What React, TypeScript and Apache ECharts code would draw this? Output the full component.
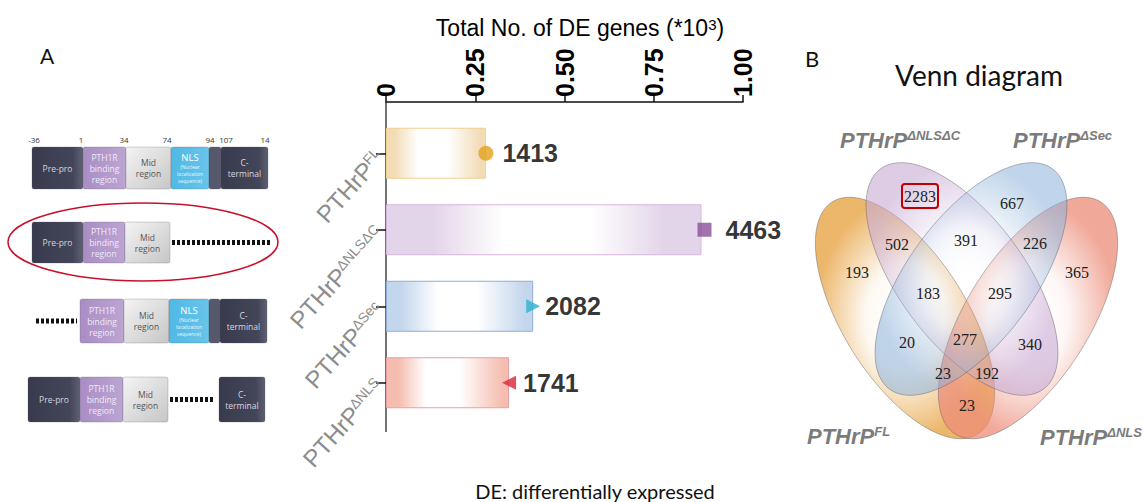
import React, { useEffect, useRef } from 'react';
import * as echarts from 'echarts';

// ---------- bar chart data ----------
const categories = ['FL', 'ΔNLSΔC', 'ΔSec', 'ΔNLS'];
const deGeneCounts = [1413, 4463, 2082, 1741];
const axisTickLabels = ['0', '0.25', '0.50', '0.75', '1.00'];
const axisFullScale = 5050; // gene count drawn at the "1.00" tick

// ---------- bar styles ----------
const barFill = ['#f2dcb6', '#e3d5e9', '#c3d6ec', '#f5bdb0'];
const barEdge = ['#efd091', '#d9b5df', '#8caed6', '#e89ea2'];
// horizontal glow: [colour until, white from, white until, colour from]
const barGlow = [
  [0.08, 0.32, 0.62, 0.95],
  [0.15, 0.37, 0.65, 0.88],
  [0.1, 0.35, 0.62, 0.95],
  [0.1, 0.32, 0.6, 0.95],
];
const markerColor = ['#e2a11b', '#8b4f99', '#2db3cc', '#d9243a'];
const markerSymbol = ['circle', 'rect', 'triangle', 'triangle'];
const markerRotate = [0, 0, -90, 90];
const markerSize = [15, 14, 14, 14];
const markerShift = [0, 3, 0, 0];
const labelGap = [9, 14, 5, 7];

// ---------- venn data ----------
const vennSetNames = ['FL', 'ΔNLSΔC', 'ΔSec', 'ΔNLS'];
const vennRegionCounts = [193, 2283, 667, 365, 502, 391, 226, 183, 295, 20, 277, 340, 23, 192, 23];
const vennHighlighted = 1;

// ---------- venn layout ----------
const vennRegionPos = [
  [857, 272], [920, 196], [1012, 203], [1077, 272], [897, 244], [966, 240], [1035, 243],
  [928, 293], [1000, 293], [907, 342], [965, 339], [1030, 344], [943, 373], [987, 373], [967, 405],
];
const vennEllipses = [
  { cx: 905, cy: 318, a: 137, b: 62, ang: 58, rgb: '232,165,70', alpha: 0.8 },
  { cx: 962, cy: 279, a: 137, b: 63, ang: 53.5, rgb: '200,170,212', alpha: 0.6 },
  { cx: 971, cy: 279, a: 137, b: 63, ang: 126.5, rgb: '140,178,218', alpha: 0.55 },
  { cx: 1028, cy: 318, a: 137, b: 62, ang: 122, rgb: '236,140,120', alpha: 0.75 },
];
const vennDrawOrder = [0, 3, 1, 2];
const vennLabelPos = [[807, 436], [840, 140], [1013, 140], [1040, 437]];

// ---------- protein schematic (left panel A) ----------
const residueMarks = ['-36', '1', '34', '74', '94', '107', '14'];
const residueX = [34, 81, 124, 167, 210, 226, 265];
const proteinRows = [
  { y: 147, h: 42, parts: [['pre', 32, 83], ['pth', 83, 126], ['mid', 126, 171], ['nls', 171, 209], ['link', 209, 221], ['cterm', 221, 268]], dots: null },
  { y: 222, h: 41, parts: [['pre', 32, 83], ['pth', 83, 125], ['mid', 125, 170]], dots: [172, 270] },
  { y: 299, h: 44, parts: [['pth', 80, 124], ['mid', 124, 169], ['nls', 169, 209], ['link', 209, 220], ['cterm', 220, 267]], dots: [36, 77] },
  { y: 377, h: 45, parts: [['pre', 28, 80], ['pth', 80, 123], ['mid', 123, 168], ['cterm', 219, 265]], dots: [170, 215] },
];

function lin(x2: number, y2: number, stops: [number, string][]) {
  return new echarts.graphic.LinearGradient(0, 0, x2, y2, stops.map(([offset, color]) => ({ offset, color })));
}

function partFill(kind: string) {
  switch (kind) {
    case 'pre':
    case 'cterm':
      return lin(1, 0, [[0, '#383a4d'], [0.8, '#434559'], [1, '#5e6073']]);
    case 'pth':
      return lin(1, 0, [[0, '#a98dc4'], [1, '#bca5d2']]);
    case 'mid':
      return lin(1, 1, [[0, '#f4f4f4'], [1, '#c6c6c6']]);
    case 'nls':
      return lin(1, 0, [[0, '#4fb9e5'], [1, '#68c4ea']]);
    default:
      return '#56586b';
  }
}

function partText(kind: string, cx: number, cy: number): any {
  const base = { type: 'text', x: cx, y: cy, z: 5, silent: true };
  const st = { textAlign: 'center', textVerticalAlign: 'middle', fontFamily: 'Open Sans, sans-serif' };
  if (kind === 'pre') return { ...base, style: { ...st, text: 'Pre-pro', fontSize: 8.5, fill: '#d4d4de' } };
  if (kind === 'cterm') return { ...base, style: { ...st, text: 'C-\nterminal', fontSize: 8.5, lineHeight: 11, fill: '#d8d8e2' } };
  if (kind === 'pth') return { ...base, style: { ...st, text: 'PTH1R\nbinding\nregion', fontSize: 8.5, lineHeight: 11, fill: '#f1eaf8' } };
  if (kind === 'mid') return { ...base, style: { ...st, text: 'Mid\nregion', fontSize: 8.5, lineHeight: 11, fill: '#555555' } };
  if (kind === 'nls')
    return {
      ...base,
      style: {
        ...st,
        text: '{t|NLS}\n{s|(Nuclear}\n{s|localization}\n{s|sequence)}',
        rich: {
          t: { fontSize: 9.5, fill: '#ffffff', lineHeight: 12, fontFamily: 'Open Sans, sans-serif' },
          s: { fontSize: 5, fill: '#eef8fd', lineHeight: 7, fontFamily: 'Open Sans, sans-serif' },
        },
      },
    };
  return null;
}

function ellipsePoints(e: any) {
  const pts: number[][] = [];
  const th = (e.ang * Math.PI) / 180;
  for (let k = 0; k < 120; k++) {
    const t = (k / 120) * Math.PI * 2;
    const ca = e.a * Math.cos(t);
    const sb = e.b * Math.sin(t);
    pts.push([e.cx + ca * Math.cos(th) - sb * Math.sin(th), e.cy + ca * Math.sin(th) + sb * Math.cos(th)]);
  }
  return pts;
}

function buildGraphics() {
  const g: any[] = [];

  // panel letters and captions
  g.push({ type: 'text', x: 47, y: 55, style: { text: 'A', fontSize: 21, fontFamily: 'Lato, sans-serif', fill: '#111', textAlign: 'center', textVerticalAlign: 'middle' } });
  g.push({ type: 'text', x: 812, y: 58, style: { text: 'B', fontSize: 22, fontFamily: 'Lato, sans-serif', fill: '#111', textAlign: 'center', textVerticalAlign: 'middle' } });
  g.push({ type: 'text', x: 979, y: 75, style: { text: 'Venn diagram', fontSize: 28, fontFamily: 'Lato, sans-serif', fill: '#111', textAlign: 'center', textVerticalAlign: 'middle' } });
  g.push({ type: 'text', x: 595, y: 491, style: { text: 'DE: differentially expressed', fontSize: 20, fontFamily: 'Lato, sans-serif', fill: '#111', textAlign: 'center', textVerticalAlign: 'middle' } });
  g.push({
    type: 'text', x: 580, y: 28,
    style: {
      text: '{m|Total No. of DE genes (*10}{s|3}{m|)}',
      textAlign: 'center', textVerticalAlign: 'middle',
      rich: {
        m: { fontSize: 23, fontFamily: 'Liberation Sans, Arial', fill: '#000', verticalAlign: 'bottom' },
        s: { fontSize: 15, fontFamily: 'Liberation Sans, Arial', fill: '#000', verticalAlign: 'top' },
      },
    },
  });

  // bar-chart vertical axis line (extends past the category band)
  g.push({ type: 'line', shape: { x1: 386, y1: 102, x2: 386, y2: 432 }, style: { stroke: '#444', lineWidth: 1.5 } });

  // protein schematic
  residueMarks.forEach((t, i) => {
    g.push({ type: 'text', x: residueX[i], y: 139, style: { text: t, fontSize: 8, fontFamily: 'Open Sans, sans-serif', fill: '#333', textAlign: 'center', textVerticalAlign: 'middle' } });
  });
  proteinRows.forEach((row) => {
    row.parts.forEach(([kind, x0, x1]: any) => {
      g.push({ type: 'rect', shape: { x: x0, y: row.y, width: x1 - x0, height: row.h, r: 2 }, style: { fill: partFill(kind), stroke: 'rgba(90,90,100,0.5)', lineWidth: 0.5 } });
      const tx = partText(kind, (x0 + x1) / 2, row.y + row.h / 2);
      if (tx) g.push(tx);
    });
    if (row.dots) {
      g.push({ type: 'line', shape: { x1: row.dots[0], y1: row.y + row.h / 2, x2: row.dots[1], y2: row.y + row.h / 2 }, style: { stroke: '#111', lineWidth: 5, lineDash: [3, 2] } });
    }
  });
  g.push({ type: 'ellipse', shape: { cx: 143, cy: 242, rx: 135, ry: 39 }, style: { fill: 'none', stroke: '#c8102e', lineWidth: 1.5 } });

  // venn ellipses
  vennDrawOrder.forEach((i) => {
    const e = vennEllipses[i];
    g.push({
      type: 'polygon',
      shape: { points: ellipsePoints(e) },
      style: {
        fill: new echarts.graphic.RadialGradient(0.5, 0.5, 0.5, [
          { offset: 0, color: 'rgba(255,255,255,0)' },
          { offset: 0.45, color: `rgba(${e.rgb},0.08)` },
          { offset: 1, color: `rgba(${e.rgb},${e.alpha})` },
        ]),
        stroke: 'rgba(80,80,90,0.5)',
        lineWidth: 0.8,
      },
    });
  });
  vennRegionCounts.forEach((c, i) => {
    g.push({ type: 'text', x: vennRegionPos[i][0], y: vennRegionPos[i][1], z: 10, style: { text: String(c), fontSize: 16, fontFamily: 'Liberation Serif, serif', fill: '#222', textAlign: 'center', textVerticalAlign: 'middle' } });
  });
  const hp = vennRegionPos[vennHighlighted];
  g.push({ type: 'rect', z: 11, shape: { x: hp[0] - 18, y: hp[1] - 12, width: 36, height: 24, r: 3 }, style: { fill: 'none', stroke: '#c00000', lineWidth: 2 } });
  vennSetNames.forEach((n, i) => {
    g.push({
      type: 'text', x: vennLabelPos[i][0], y: vennLabelPos[i][1], z: 10,
      style: {
        text: `{m|PTHrP}{s|${n}}`,
        textAlign: 'left', textVerticalAlign: 'middle',
        rich: {
          m: { fontSize: 22, fontWeight: 'bold', fontStyle: 'italic', fontFamily: 'Liberation Sans, Arial', fill: '#7b7b7b', verticalAlign: 'bottom' },
          s: { fontSize: 13, fontWeight: 'bold', fontStyle: 'italic', fontFamily: 'Liberation Sans, Arial', fill: '#7b7b7b', verticalAlign: 'top' },
        },
      },
    });
  });
  return g;
}

function barGradient(i: number) {
  const [c0, w0, w1, c1] = barGlow[i];
  return new echarts.graphic.LinearGradient(0, 0, 1, 0, [
    { offset: 0, color: barFill[i] },
    { offset: c0, color: barFill[i] },
    { offset: w0, color: '#ffffff' },
    { offset: w1, color: '#ffffff' },
    { offset: c1, color: barFill[i] },
    { offset: 1, color: barFill[i] },
  ]);
}

export default function App() {
  const ref = useRef<HTMLDivElement>(null);
  useEffect(() => {
    if (!ref.current) return;
    const chart = echarts.init(ref.current, undefined, { renderer: 'svg' });
    const step = axisFullScale / 4;
    chart.setOption({
      animation: false,
      backgroundColor: '#ffffff',
      grid: { left: 386, right: 404, top: 115, bottom: 81 },
      xAxis: {
        type: 'value', position: 'top', offset: 13, min: 0, max: axisFullScale, interval: step,
        axisLine: { show: true, lineStyle: { color: '#111', width: 1.5 } },
        axisTick: { show: true, length: 7, lineStyle: { color: '#111', width: 1.5 } },
        splitLine: { show: false },
        axisLabel: {
          rotate: -90, margin: 5, fontSize: 25, fontWeight: 'bold', color: '#000', fontFamily: 'Liberation Sans, Arial',
          formatter: (v: number) => axisTickLabels[Math.round(v / step)],
        },
      },
      yAxis: {
        type: 'category', data: categories, inverse: true,
        axisLine: { show: false },
        axisTick: { show: true, alignWithLabel: true, length: 10, lineStyle: { color: '#111', width: 1.5 } },
        axisLabel: {
          rotate: 48, margin: 6,
          formatter: (v: string) => `{m|PTHrP}{s|${v}}`,
          rich: {
            m: { fontSize: 24, color: '#8c8c8c', fontFamily: 'Liberation Sans, Arial', verticalAlign: 'bottom' },
            s: { fontSize: 14, color: '#8c8c8c', fontFamily: 'Liberation Sans, Arial', verticalAlign: 'top' },
          },
        },
      },
      series: [
        {
          type: 'bar', barWidth: 51,
          data: deGeneCounts.map((v, i) => ({
            value: v,
            itemStyle: { color: barGradient(i), borderColor: barEdge[i], borderWidth: 1 },
          })),
        },
        {
          type: 'scatter', z: 4,
          label: { show: true, position: 'right', fontSize: 25, fontWeight: 'bold', color: '#000', fontFamily: 'Liberation Sans, Arial', formatter: (p: any) => String(p.value[0]) },
          data: deGeneCounts.map((v, i) => ({
            value: [v, i],
            symbol: markerSymbol[i], symbolSize: markerSize[i], symbolRotate: markerRotate[i], symbolOffset: [markerShift[i], 0],
            itemStyle: { color: markerColor[i] },
            label: { distance: labelGap[i] },
          })),
        },
      ],
      graphic: buildGraphics(),
    });
    return () => chart.dispose();
  }, []);
  return <div ref={ref} style={{ position: 'absolute', left: 0, top: 0, width: 1147, height: 502 }} />;
}
